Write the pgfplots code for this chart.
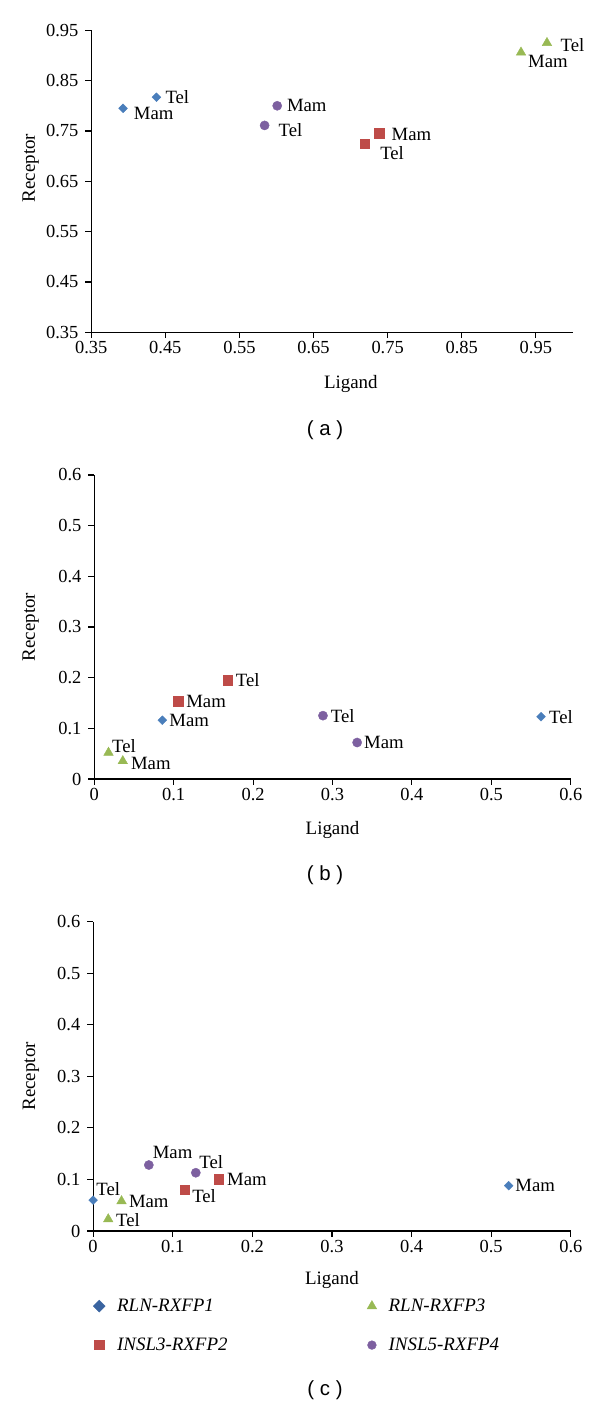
\documentclass[border=0pt]{standalone}
\usepackage{fontspec}
\setmainfont{Liberation Serif}
\newfontfamily\capfont{Liberation Sans}
\usepackage{pgfplots}
\pgfplotsset{compat=1.18}

\definecolor{cblue}{HTML}{4A7EBB}
\definecolor{cred}{HTML}{BE4B48}
\definecolor{cgreen}{HTML}{98B954}
\definecolor{cpurple}{HTML}{7D60A0}
\definecolor{cbluedk}{HTML}{3A64A0}

\pgfplotsset{
  panel/.style={
    scale only axis,
    axis lines*=left,
    axis line style={black, line width=1.2bp, -},
    every tick/.style={black, line width=1.1bp},
    tick align=outside,
    major tick length=5.8bp,
    tick label style={font=\fontsize{18.5}{21}\selectfont},
    yticklabel style={xshift=-3.5bp},
    label style={font=\fontsize{19}{22}\selectfont},
    clip=false,
  },
  pts/.style={
    only marks,
    forget plot,
    nodes near coords,
    point meta=explicit symbolic,
    visualization depends on={\thisrow{dx}\as\dx},
    visualization depends on={\thisrow{dy}\as\dy},
    every node near coord/.append style={anchor=west, inner sep=0pt,
      xshift=\dx bp, yshift=\dy bp, text=black, font=\fontsize{18.8}{21}\selectfont},
  },
  sblue/.style={color=cblue, mark=square*, mark size=3.1bp, mark options={rotate=45}},
  sred/.style={color=cred, mark=square*, mark size=4.8bp},
  sgreen/.style={color=cgreen, mark=triangle*, mark size=5.5bp},
  spurple/.style={color=cpurple, mark=*, mark size=4.6bp},
}

\begin{document}
\begin{tikzpicture}
\path (0bp,0bp) rectangle (600bp,1405bp);

% ---------------- panel (a) ----------------
\begin{axis}[panel,
  at={(91.2bp,1072.7bp)}, anchor=south west,
  width=481.7bp, height=302bp,
  xmin=0.35, xmax=1.0, ymin=0.35, ymax=0.95,
  xtick={0.35,0.45,0.55,0.65,0.75,0.85,0.95},
  xticklabels={0.35,0.45,0.55,0.65,0.75,0.85,0.95},
  ytick={0.35,0.45,0.55,0.65,0.75,0.85,0.95},
  yticklabels={0.35,0.45,0.55,0.65,0.75,0.85,0.95},
  xlabel={Ligand}, ylabel={Receptor},
  x label style={at={(axis description cs:0.539,-0.1705)}, anchor=center},
  y label style={at={(axis description cs:-0.1254,0.544)}, anchor=center},
]
\addplot[pts, sblue] table[x=x,y=y,meta=lab] {
x y lab dx dy
0.393 0.795 Mam 10.7 -5.6
0.438 0.817 Tel 8.9 0
};
\addplot[pts, sgreen] table[x=x,y=y,meta=lab] {
x y lab dx dy
0.930 0.906 Mam 6.9 -9.4
0.965 0.925 Tel 13.5 -2.7
};
\addplot[pts, sred] table[x=x,y=y,meta=lab] {
x y lab dx dy
0.739 0.745 Mam 12 -1.2
0.719 0.725 Tel 15.4 -9.4
};
\addplot[pts, spurple] table[x=x,y=y,meta=lab] {
x y lab dx dy
0.601 0.800 Mam 9.6 0
0.584 0.761 Tel 13.9 -4.7
};
\end{axis}
\node[font=\capfont\fontsize{20.5}{24}\selectfont] at (325bp,974.3bp) {( a )};

% ---------------- panel (b) ----------------
\begin{axis}[panel,
  at={(94.2bp,626bp)}, anchor=south west,
  width=476.6bp, height=304bp,
  xmin=0, xmax=0.6, ymin=0, ymax=0.6,
  xtick={0,0.1,0.2,0.3,0.4,0.5,0.6},
  xticklabels={0,0.1,0.2,0.3,0.4,0.5,0.6},
  ytick={0,0.1,0.2,0.3,0.4,0.5,0.6},
  yticklabels={0,0.1,0.2,0.3,0.4,0.5,0.6},
  xlabel={Ligand}, ylabel={Receptor},
  x label style={at={(axis description cs:0.5,-0.169)}, anchor=center},
  y label style={at={(axis description cs:-0.133,0.5)}, anchor=center},
]
\addplot[pts, sblue] table[x=x,y=y,meta=lab] {
x y lab dx dy
0.0858 0.116 Mam 6.9 -0.7
0.5625 0.123 Tel 8 0
};
\addplot[pts, sgreen] table[x=x,y=y,meta=lab] {
x y lab dx dy
0.036 0.0355 Mam 8.1 -2
0.018 0.052 Tel 3.5 6.7
};
\addplot[pts, sred] table[x=x,y=y,meta=lab] {
x y lab dx dy
0.1055 0.154 Mam 8.1 0
0.168 0.195 Tel 8.1 0
};
\addplot[pts, spurple] table[x=x,y=y,meta=lab] {
x y lab dx dy
0.331 0.072 Mam 6.9 0
0.288 0.125 Tel 7.7 0
};
\end{axis}
\node[font=\capfont\fontsize{20.5}{24}\selectfont] at (325bp,529.3bp) {( b )};

% ---------------- panel (c) ----------------
\begin{axis}[panel,
  at={(93.1bp,174bp)}, anchor=south west,
  width=477.7bp, height=309.3bp,
  xmin=0, xmax=0.6, ymin=0, ymax=0.6,
  xtick={0,0.1,0.2,0.3,0.4,0.5,0.6},
  xticklabels={0,0.1,0.2,0.3,0.4,0.5,0.6},
  ytick={0,0.1,0.2,0.3,0.4,0.5,0.6},
  yticklabels={0,0.1,0.2,0.3,0.4,0.5,0.6},
  xlabel={Ligand}, ylabel={Receptor},
  x label style={at={(axis description cs:0.5,-0.159)}, anchor=center},
  y label style={at={(axis description cs:-0.130,0.5)}, anchor=center},
  legend columns=2,
  legend cell align=left,
  legend style={at={(axis description cs:0.0,-0.213)}, anchor=north west,
    draw=none, fill=none, inner sep=0pt,
    font=\fontsize{19}{22}\selectfont\itshape,
    row sep=21bp,
    /tikz/every odd column/.append style={column sep=10bp},
    /tikz/every even column/.append style={column sep=138bp}},
]
\addlegendimage{only marks, color=cbluedk, mark=square*, mark size=4.2bp, mark options={rotate=45}}
\addlegendentry{\makebox[110bp][l]{RLN-RXFP1}}
\addlegendimage{only marks, color=cgreen, mark=triangle*, mark size=5.5bp}
\addlegendentry{RLN-RXFP3}
\addlegendimage{only marks, color=cred, mark=square*, mark size=4.6bp}
\addlegendentry{\makebox[110bp][l]{INSL3-RXFP2}}
\addlegendimage{only marks, color=cpurple, mark=*, mark size=4.4bp}
\addlegendentry{INSL5-RXFP4}
\addplot[pts, sblue] table[x=x,y=y,meta=lab] {
x y lab dx dy
0.522 0.088 Mam 6.5 0
0.0 0.060 Tel 3.1 10.7
};
\addplot[pts, sgreen] table[x=x,y=y,meta=lab] {
x y lab dx dy
0.0357 0.058 Mam 7.3 0
0.019 0.023 Tel 7.7 -1
};
\addplot[pts, sred] table[x=x,y=y,meta=lab] {
x y lab dx dy
0.158 0.100 Mam 8.1 0
0.115 0.080 Tel 7.4 -6.3
};
\addplot[pts, spurple] table[x=x,y=y,meta=lab] {
x y lab dx dy
0.070 0.128 Mam 3.8 13
0.129 0.113 Tel 3.4 11
};
\end{axis}
\node[font=\capfont\fontsize{20.5}{24}\selectfont] at (325bp,15bp) {( c )};
\end{tikzpicture}
\end{document}
